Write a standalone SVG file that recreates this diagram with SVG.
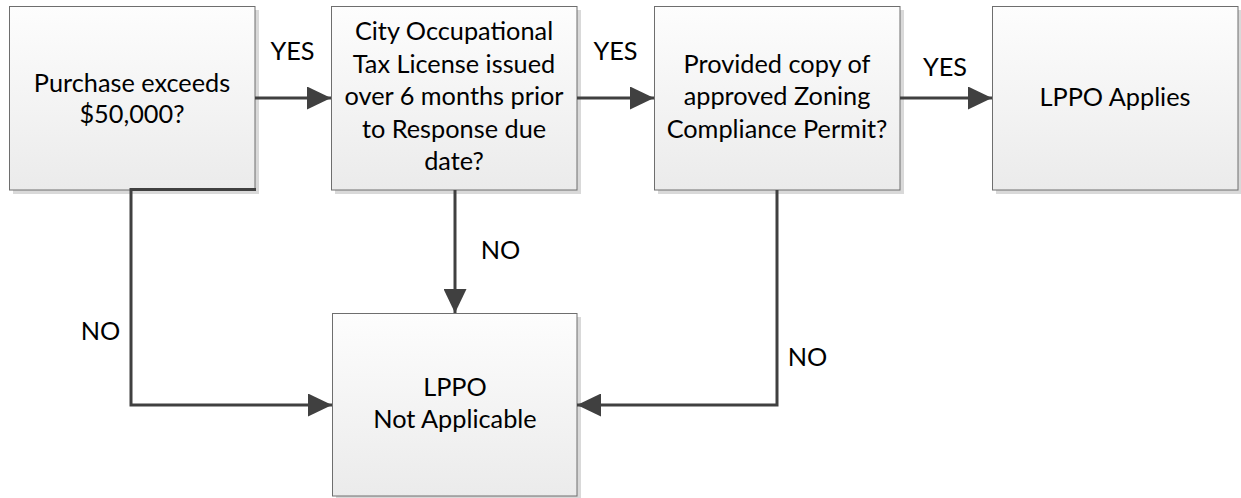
<svg xmlns="http://www.w3.org/2000/svg" width="1241" height="498" viewBox="0 0 1241 498">
  <defs>
    <linearGradient id="boxfill" x1="0" y1="0" x2="0" y2="1">
      <stop offset="0" stop-color="#fdfdfd"/>
      <stop offset="1" stop-color="#ebebeb"/>
    </linearGradient>
    <marker id="arrow" viewBox="0 0 24 23" refX="24" refY="11.5" markerWidth="24" markerHeight="23" markerUnits="userSpaceOnUse" orient="auto">
      <path d="M0,0 L24,11.5 L0,23 Z" fill="#404040"/>
    </marker>
    <style>
      .shadow { fill: #d9d9d9; }
      .box { fill: url(#boxfill); stroke: #6e6e6e; stroke-width: 1; }
      .txt { font-family: Lato, "Liberation Sans", sans-serif; font-size: 25.3px; fill: #000; text-anchor: middle; }
      .conn { fill: none; stroke: #404040; stroke-width: 3; }
    </style>
  </defs>
  <rect width="1241" height="498" fill="#ffffff"/>

  <g id="node-purchase">
    <rect class="shadow" x="13" y="10" width="246" height="184"/>
    <rect class="box" x="9.5" y="6.5" width="245.5" height="183.5"/>
    <text class="txt" x="132" y="92">Purchase exceeds</text>
    <text class="txt" x="132" y="123">$50,000?</text>
  </g>

  <g id="node-license">
    <rect class="shadow" x="335" y="10" width="246" height="184"/>
    <rect class="box" x="331.5" y="6.5" width="245.5" height="183.5"/>
    <text class="txt" x="454" y="40">City Occupational</text>
    <text class="txt" x="454" y="73">Tax License issued</text>
    <text class="txt" x="454" y="105">over 6 months prior</text>
    <text class="txt" x="454" y="138">to Response due</text>
    <text class="txt" x="454" y="170">date?</text>
  </g>

  <g id="node-zoning">
    <rect class="shadow" x="658" y="10" width="246" height="184"/>
    <rect class="box" x="654.5" y="6.5" width="245.5" height="183.5"/>
    <text class="txt" x="777" y="73">Provided copy of</text>
    <text class="txt" x="777" y="105">approved Zoning</text>
    <text class="txt" x="777" y="138">Compliance Permit?</text>
  </g>

  <g id="node-applies">
    <rect class="shadow" x="996" y="10" width="245" height="184"/>
    <rect class="box" x="992.5" y="6.5" width="245.5" height="183.5"/>
    <text class="txt" x="1115" y="106">LPPO Applies</text>
  </g>

  <g id="node-not-applicable">
    <rect class="shadow" x="336" y="317" width="245" height="181"/>
    <rect class="box" x="332.5" y="313.5" width="244.5" height="182.5"/>
    <text class="txt" x="455" y="396">LPPO</text>
    <text class="txt" x="455" y="428">Not Applicable</text>
  </g>

  <g id="connectors">
    <path class="conn" d="M255,98 L331,98" marker-end="url(#arrow)"/>
    <path class="conn" d="M577,98 L654,98" marker-end="url(#arrow)"/>
    <path class="conn" d="M900,98 L992,98" marker-end="url(#arrow)"/>
    <path class="conn" d="M256,189.5 L131,189.5 L131,405 L332,405" marker-end="url(#arrow)"/>
    <path class="conn" d="M455,190 L455,313" marker-end="url(#arrow)"/>
    <path class="conn" d="M777,190 L777,405 L577,405" marker-end="url(#arrow)"/>
    <text class="txt" x="292.5" y="60">YES</text>
    <text class="txt" x="615.5" y="60">YES</text>
    <text class="txt" x="945" y="76">YES</text>
    <text class="txt" x="500.5" y="259">NO</text>
    <text class="txt" x="100.5" y="340">NO</text>
    <text class="txt" x="807.5" y="366">NO</text>
  </g>
</svg>
